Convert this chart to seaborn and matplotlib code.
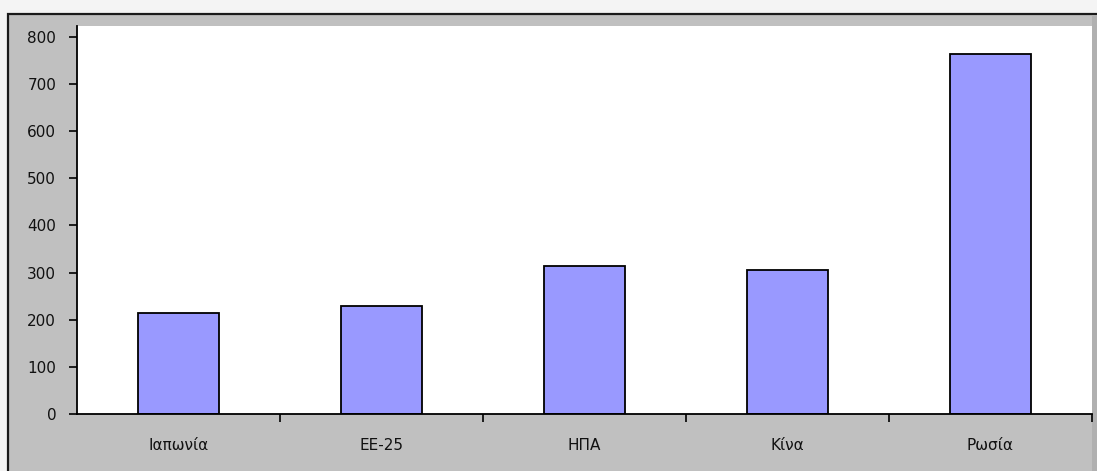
import matplotlib
matplotlib.use("Agg")
import matplotlib.pyplot as plt
from matplotlib.patches import Rectangle
from matplotlib.ticker import FixedLocator, NullFormatter
import seaborn as sns
import pandas as pd

# Data
countries = ["Ιαπωνία", "ΕΕ-25", "ΗΠΑ", "Κίνα", "Ρωσία"]
values = [215, 230, 313, 305, 764]
y_ticks = [0, 100, 200, 300, 400, 500, 600, 700, 800]

df = pd.DataFrame({"country": countries, "value": values})

sns.set_theme(style="white")
plt.rcParams["font.family"] = ["DejaVu Sans"]

W, H = 1097, 471
fig = plt.figure(figsize=(W / 100, H / 100), dpi=100, facecolor="#f4f4f4")

# Chart area: grey panel with a dark frame, plus a shaded right edge
fig.patches.append(Rectangle((8 / W, -0.05), (W - 9) / W, (H - 14) / H + 0.05,
                             transform=fig.transFigure, facecolor="#c0c0c0",
                             edgecolor="#1a1a1a", linewidth=1.6, zorder=-2))
fig.patches.append(Rectangle((1092 / W, 0), 5 / W, (H - 15) / H,
                             transform=fig.transFigure, facecolor="#b0b0b0",
                             edgecolor="none", zorder=-1))

ax = fig.add_axes([77 / W, (H - 414) / H, (1092 - 77) / W, (414 - 26) / H])
ax.set_zorder(1)
ax.set_facecolor("white")

sns.barplot(data=df, x="country", y="value", color="#9999ff", saturation=1,
            width=0.4, edgecolor="black", linewidth=1.3, ax=ax)

ax.set_xlim(-0.5, len(countries) - 0.5)
ax.set_ylim(0, 823)
ax.set_yticks(y_ticks)
ax.set_xlabel("")
ax.set_ylabel("")

for side in ("top", "right"):
    ax.spines[side].set_visible(False)
for side in ("left", "bottom"):
    ax.spines[side].set_color("black")
    ax.spines[side].set_linewidth(1.3)

ax.tick_params(axis="y", which="major", left=True, direction="out", length=6,
               width=1.2, color="black", labelsize=11, labelcolor="#111111", pad=9)
ax.tick_params(axis="x", which="major", bottom=False, labelsize=11,
               labelcolor="#111111", pad=11)
# Tick marks between categories
ax.xaxis.set_minor_locator(FixedLocator([i + 0.5 for i in range(len(countries))]))
ax.xaxis.set_minor_formatter(NullFormatter())
ax.tick_params(axis="x", which="minor", bottom=True, direction="out", length=6,
               width=1.2, color="black")

fig.savefig("out.png", dpi=100, facecolor=fig.get_facecolor())
